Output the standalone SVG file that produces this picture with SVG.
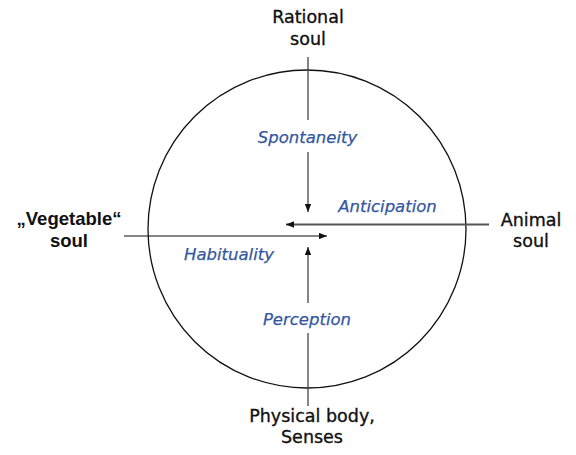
<svg xmlns="http://www.w3.org/2000/svg" width="576" height="455" viewBox="0 0 576 455">
  <style>
    .lbl { font-family: "DejaVu Sans", Verdana, sans-serif; font-size: 17.5px; fill: #111; stroke: #111; stroke-width: 0.35; text-anchor: middle; }
    .veg { font-family: "Liberation Sans", Arial, sans-serif; font-weight: bold; font-size: 18.5px; fill: #111; text-anchor: middle; }
    .mode { font-family: "DejaVu Sans", Verdana, sans-serif; font-style: italic; font-size: 16.5px; fill: #34579F; stroke: #34579F; stroke-width: 0.25; text-anchor: middle; }
    .ln { stroke: #444; stroke-width: 1.3; fill: none; }
  </style>
  <defs>
    <marker id="ah" viewBox="0 0 10 8" refX="10" refY="4" markerWidth="8" markerHeight="6.4" markerUnits="userSpaceOnUse" orient="auto">
      <path d="M0,0 L10,4 L0,8 Z" fill="#111"/>
    </marker>
  </defs>
  <rect width="576" height="455" fill="#fff"/>

  <g id="circle">
    <circle cx="307" cy="229" r="159" fill="none" stroke="#111" stroke-width="1.3"/>
  </g>

  <g id="connectors">
    <!-- from rational soul downward -->
    <line class="ln" x1="308" y1="57" x2="308" y2="120"/>
    <line class="ln" x1="308" y1="152" x2="308" y2="212" marker-end="url(#ah)"/>
    <!-- from body upward -->
    <line class="ln" x1="308" y1="406" x2="308" y2="333"/>
    <line class="ln" x1="308" y1="303" x2="308" y2="247" marker-end="url(#ah)"/>
    <!-- from animal soul leftward -->
    <line x1="489" y1="224.5" x2="286" y2="224.5" stroke="#555" stroke-width="2" marker-end="url(#ah)"/>
    <!-- from vegetable soul rightward -->
    <line x1="124" y1="236" x2="327" y2="236" stroke="#111" stroke-width="1.2" marker-end="url(#ah)"/>
  </g>

  <g id="rational">
    <text class="lbl" x="308" y="23">Rational</text>
    <text class="lbl" x="308" y="45">soul</text>
  </g>
  <g id="vegetable">
    <text class="veg" x="69" y="225">„Vegetable“</text>
    <text class="veg" x="69" y="247">soul</text>
  </g>
  <g id="animal">
    <text class="lbl" x="531" y="226">Animal</text>
    <text class="lbl" x="531" y="247">soul</text>
  </g>
  <g id="body">
    <text class="lbl" x="312" y="422">Physical body,</text>
    <text class="lbl" x="312" y="443">Senses</text>
  </g>

  <g id="spontaneity"><text class="mode" x="307.5" y="143">Spontaneity</text></g>
  <g id="anticipation"><text class="mode" x="387.5" y="212">Anticipation</text></g>
  <g id="habituality"><text class="mode" x="229" y="260">Habituality</text></g>
  <g id="perception"><text class="mode" x="307" y="325">Perception</text></g>
</svg>
